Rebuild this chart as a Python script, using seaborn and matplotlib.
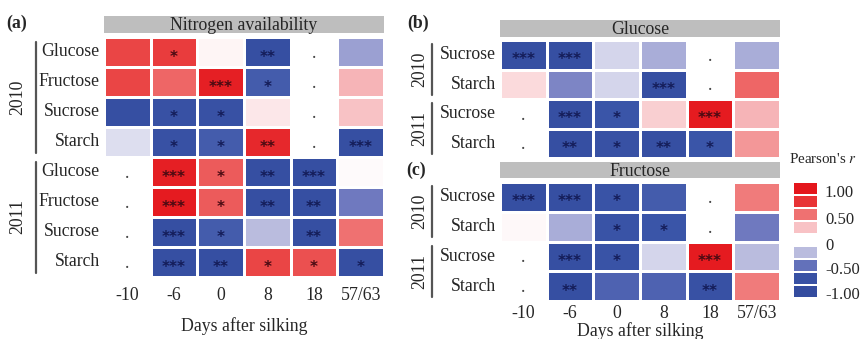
import numpy as np
import pandas as pd
import seaborn as sns
import matplotlib.pyplot as plt
from matplotlib.colors import LinearSegmentedColormap
from matplotlib.transforms import blended_transform_factory
from matplotlib.lines import Line2D

nan = np.nan

# ---- data -------------------------------------------------------------
days = ["-10", "-6", "0", "8", "18", "57/63"]
years = ["2010", "2011"]
n_traits = ["Glucose", "Fructose", "Sucrose", "Starch"]
sugar_traits = ["Sucrose", "Starch"]

# (a) Nitrogen availability
n_r_2010 = [[0.75, 0.80, 0.04, -0.90, nan, -0.35],
            [0.75, 0.60, 0.95, -0.70, nan, 0.30],
            [-0.90, -0.85, -0.85, 0.10, nan, 0.25],
            [-0.12, -0.85, -0.70, 0.90, nan, -0.90]]
n_sig_2010 = [["", "*", "", "**", "", ""],
              ["", "", "***", "*", "", ""],
              ["", "*", "*", "", "", ""],
              ["", "*", "*", "**", "", "***"]]
n_r_2011 = [[nan, 0.95, 0.65, -0.90, -0.90, 0.02],
            [nan, 0.97, 0.65, -0.90, -0.90, -0.50],
            [nan, -0.90, -0.70, -0.25, -0.90, 0.55],
            [nan, -0.90, -0.90, 0.75, 0.70, -0.90]]
n_sig_2011 = [["", "***", "*", "**", "***", ""],
              ["", "***", "*", "**", "**", ""],
              ["", "***", "*", "", "**", ""],
              ["", "***", "**", "*", "*", "*"]]

# (b) Glucose
glc_r_2010 = [[-0.92, -0.90, -0.15, -0.30, nan, -0.30],
              [0.15, -0.45, -0.15, -0.90, nan, 0.60]]
glc_sig_2010 = [["***", "***", "", "", "", ""],
                ["", "", "", "***", "", ""]]
glc_r_2011 = [[nan, -0.90, -0.75, 0.20, 0.97, 0.30],
              [nan, -0.90, -0.85, -0.90, -0.75, 0.40]]
glc_sig_2011 = [["", "***", "*", "", "***", ""],
                ["", "**", "*", "**", "*", ""]]

# (c) Fructose
fru_r_2010 = [[-0.90, -0.90, -0.80, -0.70, nan, 0.50],
              [0.03, -0.30, -0.80, -0.75, nan, -0.50]]
fru_sig_2010 = [["***", "***", "*", "", "", ""],
                ["", "", "*", "*", "", ""]]
fru_r_2011 = [[nan, -0.90, -0.80, -0.15, 0.97, -0.25],
              [nan, -0.90, -0.65, -0.65, -0.85, 0.50]]
fru_sig_2011 = [["", "***", "*", "", "***", ""],
                ["", "**", "", "", "**", ""]]

legend_values = [1.0, 0.85, 0.55, 0.25, nan, -0.25, -0.55, -0.85, -1.0]
legend_ticks = ["1.00", "0.50", "0", "-0.50", "-1.00"]

# ---- style ------------------------------------------------------------
sns.set_style("white")
plt.rcParams["font.family"] = ["Liberation Serif", "DejaVu Serif"]
plt.rcParams["mathtext.fontset"] = "stix"
FS = 12.8

cmap = LinearSegmentedColormap.from_list(
    "pearson",
    [(0.00, "#344c9f"), (0.125, "#3a55a8"), (0.25, "#6e78bf"),
     (0.375, "#b9bbde"), (0.50, "#ffffff"), (0.625, "#f8c3c6"),
     (0.75, "#f07c7c"), (0.875, "#ea4646"), (1.00, "#e4161c")])

W, H = 862, 339
fig = plt.figure(figsize=(W / 100, H / 100), dpi=100)


def fx(px):
    return px / W


def fy(py):
    return 1 - py / H


def panel(left, right, top, bottom, strip_top, strip_bottom, title,
          traits, blocks, show_x, tick_pad, label_pad):
    values = np.vstack([np.array(v, dtype=float) for v, _ in blocks])
    sig = np.vstack([np.array(s, dtype=object) for _, s in blocks])
    rows = traits * len(blocks)
    df = pd.DataFrame(values, index=range(len(rows)), columns=days)

    ax = fig.add_axes([fx(left), fy(bottom), fx(right - left),
                       (bottom - top) / H])
    sns.heatmap(df, ax=ax, cmap=cmap, vmin=-1, vmax=1, cbar=False,
                linewidths=2, linecolor="white",
                annot=sig, fmt="",
                annot_kws={"fontsize": 11, "family": "DejaVu Sans",
                           "fontweight": "bold"})
    # significance marks: dark red on positive, dark navy on negative cells
    for t in ax.texts:
        x, y = t.get_position()
        v = values[int(y), int(x)]
        t.set_color("#4a0a12" if v > 0 else "#141c58")
        t.set_y(y + 0.17)
    # missing correlations
    for i in range(values.shape[0]):
        for j in range(values.shape[1]):
            if np.isnan(values[i, j]):
                ax.text(j + 0.5, i + 0.55, ".", ha="center", va="center",
                        fontsize=FS, color="#444444")

    ax.set_yticks(np.arange(len(rows)) + 0.5)
    ax.set_yticklabels(rows, rotation=0, fontsize=FS)
    ax.tick_params(axis="y", length=0, pad=3)
    if show_x:
        ax.set_xticklabels(days, rotation=0, fontsize=FS)
        ax.tick_params(axis="x", length=0, pad=tick_pad)
        ax.set_xlabel("Days after silking", fontsize=FS, labelpad=label_pad)
    else:
        ax.set_xticklabels([])
        ax.tick_params(axis="x", length=0)
        ax.set_xlabel("")
    ax.set_ylabel("")

    # facet strip
    sax = fig.add_axes([fx(left), fy(strip_bottom), fx(right - left),
                        (strip_bottom - strip_top) / H])
    sax.set_facecolor("#bebebe")
    sax.set_xticks([])
    sax.set_yticks([])
    for s in sax.spines.values():
        s.set_visible(False)
    sax.text(0.5, 0.42, title, ha="center", va="center", fontsize=FS,
             transform=sax.transAxes)
    return ax


def year_brackets(ax, line_x, text_x, n_per_year):
    tr = blended_transform_factory(fig.transFigure, ax.transData)
    for k, yr in enumerate(years):
        y0 = k * n_per_year + 0.15
        y1 = (k + 1) * n_per_year - 0.15
        fig.add_artist(Line2D([fx(line_x), fx(line_x)], [y0, y1],
                              transform=tr, color="#555555", lw=1.6))
        fig.text(fx(text_x), (y0 + y1) / 2, yr, rotation=90, ha="center",
                 va="center", fontsize=FS, transform=tr)


ax_a = panel(104, 384, 37, 277, 16, 33, "Nitrogen availability", n_traits,
             [(n_r_2010, n_sig_2010), (n_r_2011, n_sig_2011)],
             True, 7, 10)
year_brackets(ax_a, 36, 18, 4)

ax_b = panel(500, 780, 40, 158, 20, 37, "Glucose", sugar_traits,
             [(glc_r_2010, glc_sig_2010), (glc_r_2011, glc_sig_2011)],
             False, 0, 0)
year_brackets(ax_b, 432, 420, 2)

ax_c = panel(500, 780, 182, 301, 162, 178, "Fructose", sugar_traits,
             [(fru_r_2010, fru_sig_2010), (fru_r_2011, fru_sig_2011)],
             True, 3, 0)
year_brackets(ax_c, 432, 420, 2)

fig.text(fx(6), fy(23), "(a)", fontsize=FS, fontweight="bold", va="center")
fig.text(fx(407), fy(23), "(b)", fontsize=FS, fontweight="bold", va="center")
fig.text(fx(406), fy(170), "(c)", fontsize=FS, fontweight="bold", va="center")

# ---- legend -----------------------------------------------------------
lax = fig.add_axes([fx(793), fy(298), fx(25), 116 / H])
sns.heatmap(pd.DataFrame({"r": legend_values}), ax=lax, cmap=cmap,
            vmin=-1, vmax=1, cbar=False, linewidths=1.2, linecolor="white")
lax.set_xticks([])
lax.set_xlabel("")
lax.set_ylabel("")
lax.yaxis.tick_right()
lax.set_yticks([0.7, 2.8, 4.8, 6.7, 8.6])
lax.set_yticklabels(legend_ticks, rotation=0, fontsize=12)
lax.tick_params(axis="y", length=0, pad=5)
fig.text(fx(789), fy(159), "Pearson's $r$", fontsize=10.8, va="center")

fig.savefig("out.png", dpi=100)
